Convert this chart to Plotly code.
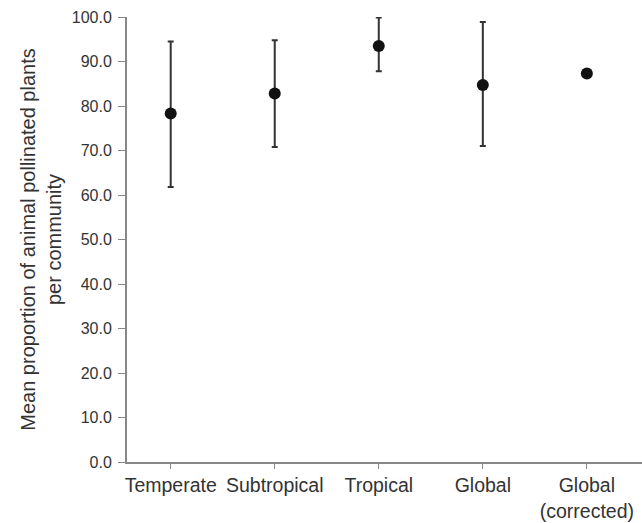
import plotly.graph_objects as go

categories = ["Temperate", "Subtropical", "Tropical", "Global", "Global<br>(corrected)"]
means = [78.3, 82.8, 93.5, 84.7, 87.3]
upper = [94.5, 94.8, 99.9, 98.9, 87.3]
lower = [61.8, 70.8, 87.8, 71.0, 87.3]

positions = list(range(len(categories)))
err_plus = [u - m for u, m in zip(upper, means)]
err_minus = [m - l for m, l in zip(means, lower)]

fig = go.Figure()
fig.add_trace(go.Scatter(
    x=positions, y=means, mode="markers",
    marker=dict(color="#111111", size=12),
    error_y=dict(type="data", symmetric=False, array=err_plus, arrayminus=err_minus,
                 color="#333333", thickness=2, width=3),
    showlegend=False,
))

fig.update_layout(
    width=642, height=523,
    margin=dict(l=127, r=0, t=17, b=61),
    paper_bgcolor="white", plot_bgcolor="white",
    font=dict(family="Liberation Sans, Arial, sans-serif", color="#333333"),
    xaxis=dict(
        range=[-0.42, 4.53], tickmode="array", tickvals=positions, ticktext=categories,
        showline=True, linecolor="#888888", linewidth=2, showgrid=False, zeroline=False,
        ticks="outside", ticklen=5, tickcolor="#888888", tickwidth=1,
        tickfont=dict(size=19.5, color="#333333"), automargin=False,
    ),
    yaxis=dict(
        range=[0, 100], tickmode="array", tickvals=list(range(0, 101, 10)),
        ticktext=[f"{v:.1f}" for v in range(0, 101, 10)],
        showline=True, linecolor="#888888", linewidth=2, showgrid=False, zeroline=False,
        ticks="outside", ticklen=7, tickcolor="#888888", tickwidth=1,
        ticklabelstandoff=3,
        tickfont=dict(size=16, color="#333333"), automargin=True,
        title=dict(text="Mean proportion of animal pollinated plants<br>per community",
                   font=dict(size=20, color="#333333"), standoff=5),
    ),
)

fig.write_html("out.html", config={"displayModeBar": False},
               post_script="document.body.style.margin='0';document.body.style.overflow='hidden';")
